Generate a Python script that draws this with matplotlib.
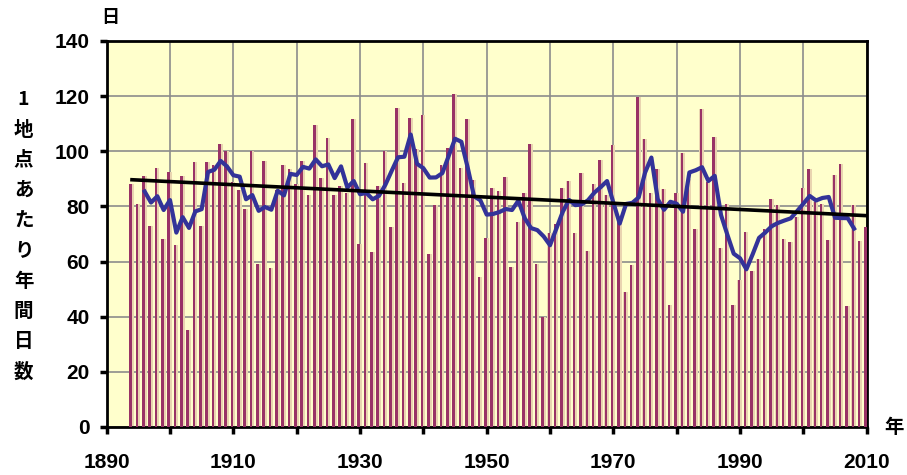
import numpy as np
import matplotlib.pyplot as plt

# annual values, 1894-2010
years = np.arange(1894, 2011)
days = [
    88, 81, 91, 73, 94, 68, 92.5, 66, 91, 35,            # 1894-1903
    96, 73, 96, 95, 102.5, 100, 89, 86, 79, 100,         # 1904-1913
    59, 96.5, 57.5, 86, 95, 93.5, 88, 96.5, 84, 109.7,   # 1914-1923
    90.4, 104.7, 84, 87.3, 85, 111.6, 66.3, 95.9, 63.3, 87.4,  # 1924-1933
    100, 72.7, 115.8, 88.6, 112, 101, 113, 62.7, 80.6, 95,     # 1934-1943
    101.3, 120.8, 94, 111.6, 89.5, 54.5, 68.7, 86.8, 85.6, 90.7,  # 1944-1953
    58, 74.2, 85, 102.5, 59, 40, 70.5, 73.5, 86.6, 89.2,       # 1954-1963
    70.2, 92.3, 64, 88, 96.7, 84, 102.3, 75, 48.8, 58.8,       # 1964-1973
    119.6, 104.3, 85, 93.5, 86.2, 44.2, 85, 99.5, 90, 71.7,    # 1974-1983
    115.4, 89, 105, 65, 81, 44.2, 53.3, 70.8, 56.7, 61,        # 1984-1993
    71.7, 82.8, 80.6, 68, 67, 76, 86.8, 93.5, 81.7, 81,        # 1994-2003
    67.8, 91.3, 95.3, 44, 80.5, 67.6, 72.4,                    # 2004-2010
]
days = np.array(days)

# 5-year running mean
ma = np.convolve(days, np.ones(5) / 5, mode='valid')
ma_years = years[2:-2]

# linear trend
coef = np.polyfit(years, days, 1)
trend = np.polyval(coef, years)

plt.rcParams['font.family'] = ['Liberation Sans', 'Noto Sans CJK JP']
plt.rcParams['font.weight'] = 'bold'

fig = plt.figure(figsize=(9.07, 4.75), dpi=100)
ax = fig.add_axes([0.1176, 0.1011, 0.838, 0.8126])
ax.set_facecolor('#FFFFCC')

ax.bar(years - 0.05, days, width=0.72, color='#E9D4B0', zorder=2)
ax.bar(years - 0.2, days, width=0.4, color='#993366', zorder=3)
ax.plot(ma_years, ma, color='#333399', lw=3, zorder=4)
ax.plot(years, trend, color='black', lw=2.6, zorder=5)

ax.set_xlim(1890, 2010)
ax.set_ylim(0, 140)
ax.set_xticks(np.arange(1890, 2011, 10))
ax.set_xticklabels([str(y) if (y - 1890) % 20 == 0 else '' for y in range(1890, 2011, 10)])
ax.set_yticks(np.arange(0, 141, 20))
ax.grid(True, color='#8C8C8C', lw=1.2, zorder=1)
ax.set_axisbelow(True)
for s in ax.spines.values():
    s.set_linewidth(2)
ax.tick_params(axis='both', direction='out', width=2.5, length=5, labelsize=15, pad=7)
ax.tick_params(axis='x', pad=14)

jp = ['Noto Sans CJK JP', 'DejaVu Sans']
fig.text(0.121, 0.963, '日', fontsize=13, fontweight='bold', family=jp, ha='center', va='center')
fig.text(0.986, 0.101, '年', fontsize=14, fontweight='bold', family=jp, ha='center', va='center')
fig.text(0.026, 0.503, '1\n地\n点\nあ\nた\nり\n年\n間\n日\n数', fontsize=14, fontweight='bold',
         family=jp, ha='center', va='center', linespacing=1.75)

fig.savefig('out.png', dpi=100)
